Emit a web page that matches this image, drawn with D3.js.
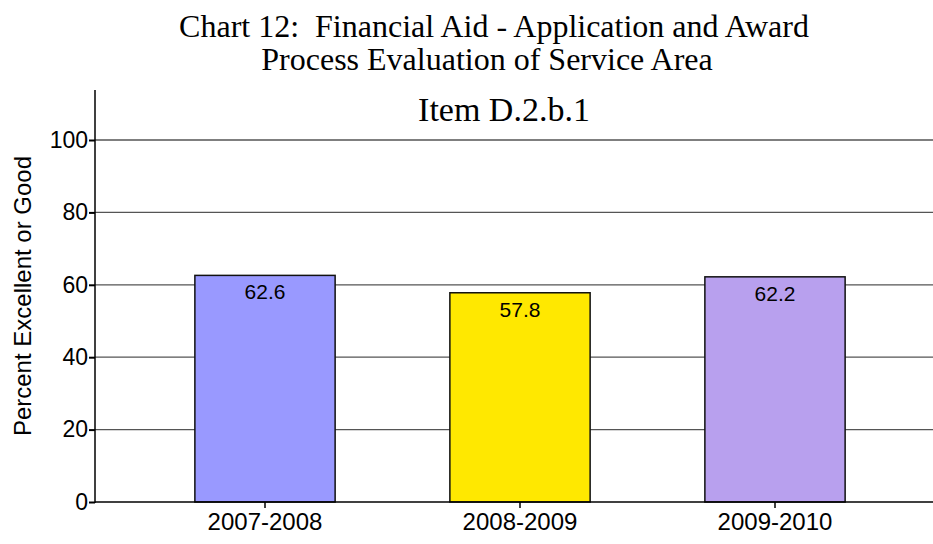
<!DOCTYPE html>
<html>
<head>
<meta charset="utf-8">
<script src="https://cdnjs.cloudflare.com/ajax/libs/d3/7.8.5/d3.min.js"></script>
<style>
  body { margin: 0; background: #fff; }
  svg { display: block; }
</style>
</head>
<body>
<div id="chart-area"></div>
<script>
const years = ["2007-2008", "2008-2009", "2009-2010"];
const percents = [62.6, 57.8, 62.2];
const barColors = ["#9999ff", "#ffe800", "#b8a0ee"];
const yTicks = [0, 20, 40, 60, 80, 100];

const w = 933;
const h = 544;
const sans = "Arial, 'Liberation Sans', sans-serif";
const serif = "'Times New Roman', 'Liberation Serif', serif";

const svg = d3.select("#chart-area")
    .append("svg")
    .attr("width", w)
    .attr("height", h);

const xScale = d3.scaleBand()
    .domain(years)
    .range([137.5, 902.5])
    .paddingInner(0.45)
    .paddingOuter(0.225);

const yScale = d3.scaleLinear()
    .domain([0, 100])
    .range([502, 140]);

// gridlines
svg.append("g")
    .selectAll("line")
    .data(yTicks.slice(1))
    .enter()
    .append("line")
    .attr("x1", 95)
    .attr("x2", w)
    .attr("y1", d => yScale(d))
    .attr("y2", d => yScale(d))
    .attr("stroke", "#555")
    .attr("stroke-width", 1.3);

// bars
svg.selectAll("rect.bar")
    .data(percents)
    .enter()
    .append("rect")
    .attr("class", "bar")
    .attr("x", (d, i) => xScale(years[i]))
    .attr("y", d => yScale(d))
    .attr("width", xScale.bandwidth())
    .attr("height", d => yScale(0) - yScale(d))
    .attr("fill", (d, i) => barColors[i])
    .attr("stroke", "#111")
    .attr("stroke-width", 1.5);

// value labels
svg.selectAll("text.val")
    .data(percents)
    .enter()
    .append("text")
    .attr("class", "val")
    .attr("x", (d, i) => xScale(years[i]) + xScale.bandwidth() / 2)
    .attr("y", d => yScale(d) + 24)
    .attr("text-anchor", "middle")
    .style("font-family", sans)
    .style("font-size", "21px")
    .text(d => d.toFixed(1));

// axes
const yAxis = d3.axisLeft(yScale).tickValues(yTicks).tickSize(6).tickPadding(1);
const yG = svg.append("g")
    .attr("transform", "translate(95,0)")
    .call(yAxis);
yG.select(".domain").remove();
yG.selectAll("line").attr("stroke", "#000").attr("stroke-width", 2);
yG.selectAll("text")
    .style("font-family", sans)
    .style("font-size", "23px")
    .attr("fill", "#000");

svg.append("line")
    .attr("x1", 95).attr("x2", 95)
    .attr("y1", 90).attr("y2", 503)
    .attr("stroke", "#000")
    .attr("stroke-width", 1.5);

const xAxis = d3.axisBottom(xScale).tickSize(6).tickPadding(5);
const xG = svg.append("g")
    .attr("transform", "translate(0,502)")
    .call(xAxis);
xG.select(".domain").remove();
xG.selectAll("line").attr("stroke", "#000").attr("stroke-width", 1.5);
xG.selectAll("text")
    .style("font-family", sans)
    .style("font-size", "24px")
    .attr("fill", "#000");

svg.append("line")
    .attr("x1", 95).attr("x2", w)
    .attr("y1", 502).attr("y2", 502)
    .attr("stroke", "#000")
    .attr("stroke-width", 1.5);

// titles
const titles = [
    { t: "Chart 12:  Financial Aid - Application and Award", x: 494, y: 37, s: 32 },
    { t: "Process Evaluation of Service Area", x: 487, y: 70, s: 32 },
    { t: "Item D.2.b.1", x: 504, y: 121, s: 34 }
];
svg.selectAll("text.title")
    .data(titles)
    .enter()
    .append("text")
    .attr("class", "title")
    .attr("x", d => d.x)
    .attr("y", d => d.y)
    .attr("text-anchor", "middle")
    .style("font-family", serif)
    .style("font-size", d => d.s + "px")
    .style("white-space", "pre")
    .text(d => d.t);

svg.append("text")
    .attr("transform", "translate(31,296) rotate(-90)")
    .attr("text-anchor", "middle")
    .style("font-family", sans)
    .style("font-size", "24px")
    .text("Percent Excellent or Good");
</script>
</body>
</html>
